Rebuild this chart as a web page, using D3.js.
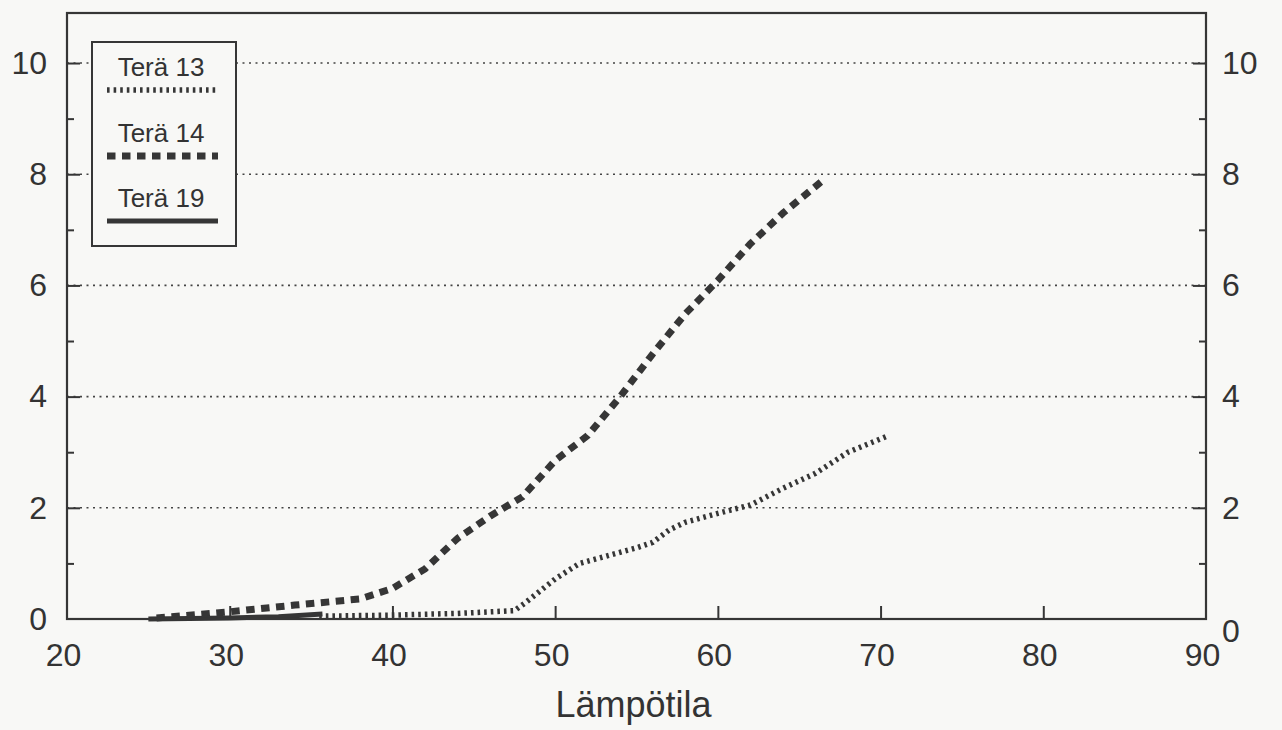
<!DOCTYPE html>
<html>
<head>
<meta charset="utf-8">
<script src="https://cdn.jsdelivr.net/npm/d3@7"></script>
<style>
  html, body { margin: 0; padding: 0; background: #f8f8f6; }
  svg { display: block; }
  text { font-family: "Liberation Sans", Arial, Helvetica, sans-serif; fill: #333; }
</style>
</head>
<body>
<script>
// ---- Data ----
const xTicks = [20, 30, 40, 50, 60, 70, 80, 90];
const yTicks = [0, 2, 4, 6, 8, 10];
const yMinorTicks = [1, 3, 5, 7, 9];
const xTitle = "Lämpötila";
const seriesNames = ["Terä 13", "Terä 14", "Terä 19"];

const tera13 = [[35.5,0.05],[40,0.07],[44,0.1],[47.5,0.15],[48.2,0.3],[50,0.72],[51.5,1.0],[53,1.12],[55,1.28],[56,1.38],[57,1.6],[58,1.74],[60,1.9],[62,2.05],[64,2.35],[66,2.62],[68,3.0],[70.5,3.3]];
const tera14 = [[25.5,0.02],[30,0.13],[34,0.25],[38,0.36],[40,0.55],[42,0.9],[44,1.45],[46,1.85],[48,2.2],[50,2.85],[52,3.3],[54,4.0],[56,4.77],[58,5.49],[60,6.09],[62,6.75],[64,7.3],[66.5,7.9]];
const tera19 = [[25,0.0],[30,0.02],[33,0.04],[35.7,0.09]];

// ---- Layout ----
const W = 1282, H = 730;
const L = 67, R = 1206, T = 13, B = 619;
const ink = "#363636";

const svg = d3.select("body").append("svg").attr("width", W).attr("height", H);

const x = d3.scaleLinear().domain([20, 90]).range([L, R]);
const y = d3.scaleLinear().domain([0, 10.9]).range([B, T]);

// grid lines (dotted)
svg.append("g").selectAll("line").data(yTicks.filter(d => d > 0)).join("line")
  .attr("x1", L).attr("x2", R)
  .attr("y1", d => y(d)).attr("y2", d => y(d))
  .attr("stroke", "#444").attr("stroke-width", 1.6).attr("stroke-dasharray", "2,4.5");

// series lines
const line = d3.line().x(d => x(d[0])).y(d => y(d[1]));
const styles = [
  { data: tera13, w: 5.5, dash: "2.6,4" },
  { data: tera14, w: 7, dash: "8.5,6.5" },
  { data: tera19, w: 5, dash: null }
];
styles.forEach(s => {
  svg.append("path").datum(s.data).attr("d", line)
    .attr("fill", "none").attr("stroke", ink)
    .attr("stroke-width", s.w)
    .attr("stroke-dasharray", s.dash);
});

// axes (ticks inward)
const fmt = d3.format("d");
const gx = svg.append("g").attr("transform", `translate(0,${B})`)
  .call(d3.axisBottom(x).tickValues(xTicks).tickSizeInner(-13).tickSizeOuter(0).tickPadding(24).tickFormat(fmt));
const gyl = svg.append("g").attr("transform", `translate(${L},0)`)
  .call(d3.axisLeft(y).tickValues(yTicks).tickSizeInner(-13).tickSizeOuter(0).tickPadding(20).tickFormat(fmt));
const gyr = svg.append("g").attr("transform", `translate(${R},0)`)
  .call(d3.axisRight(y).tickValues(yTicks).tickSizeInner(-13).tickSizeOuter(0).tickPadding(16).tickFormat(fmt));
const gyl2 = svg.append("g").attr("transform", `translate(${L},0)`)
  .call(d3.axisLeft(y).tickValues(yMinorTicks).tickSizeInner(-7).tickSizeOuter(0).tickFormat(""));
const gyr2 = svg.append("g").attr("transform", `translate(${R},0)`)
  .call(d3.axisRight(y).tickValues(yMinorTicks).tickSizeInner(-7).tickSizeOuter(0).tickFormat(""));

[gx, gyl, gyr, gyl2, gyr2].forEach(g => {
  g.select(".domain").remove();
  g.selectAll(".tick line").attr("stroke", ink).attr("stroke-width", 2);
  g.selectAll(".tick text").attr("font-size", 32).attr("fill", "#333")
    .attr("font-family", '"Liberation Sans", Arial, sans-serif');
});
gx.selectAll(".tick text").attr("dx", -4);
gyl.selectAll(".tick line").filter(d => d === 0).remove();
gyr.selectAll(".tick line").filter(d => d === 0).remove();
gx.selectAll(".tick line").filter(d => d === 20 || d === 90).remove();
gyr.selectAll(".tick text").filter(d => d === 0).attr("dy", "0.7em");

// frame
svg.append("rect").attr("x", L).attr("y", T).attr("width", R - L).attr("height", B - T)
  .attr("fill", "none").attr("stroke", ink).attr("stroke-width", 2.2);

// x title
svg.append("text").attr("x", (x(50) + x(60)) / 2 - 3).attr("y", 717)
  .attr("text-anchor", "middle").attr("font-size", 36).text(xTitle);

// legend
const lg = svg.append("g");
lg.append("rect").attr("x", 92).attr("y", 42).attr("width", 144).attr("height", 204)
  .attr("fill", "#f8f8f6").attr("stroke", ink).attr("stroke-width", 2);
const legendY = [76, 142, 207];
styles.forEach((s, i) => {
  lg.append("text").attr("x", 161).attr("y", legendY[i]).attr("text-anchor", "middle")
    .attr("font-size", 26).text(seriesNames[i]);
  lg.append("line").attr("x1", 107).attr("x2", 218)
    .attr("y1", legendY[i] + 14).attr("y2", legendY[i] + 14)
    .attr("stroke", ink).attr("stroke-width", s.w).attr("stroke-dasharray", s.dash);
});
</script>
</body>
</html>
